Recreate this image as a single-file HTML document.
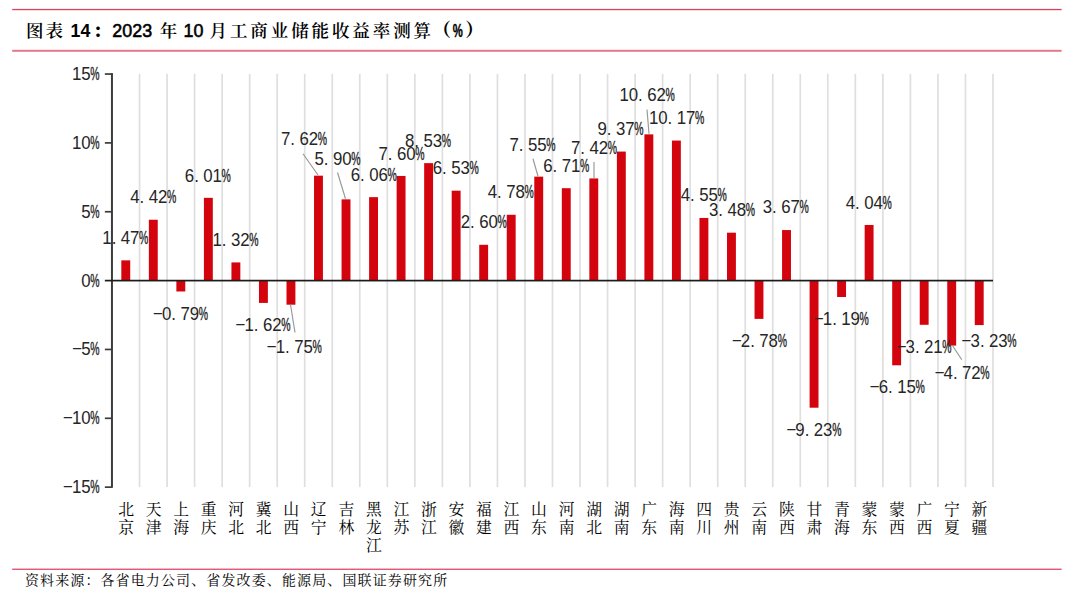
<!DOCTYPE html>
<html lang="zh-CN"><head><meta charset="utf-8"><title>图表 14：2023 年 10 月工商业储能收益率测算（%）</title>
<style>html,body{margin:0;padding:0;background:#fff}body{width:1080px;height:611px;overflow:hidden}svg{display:block}.kai{font-family:"Liberation Serif","Noto Serif CJK SC",serif}.sans{font-family:"Liberation Sans","Noto Sans CJK SC",sans-serif}</style></head><body>
<svg width="1080" height="611" viewBox="0 0 1080 611">
<rect width="1080" height="611" fill="#ffffff"/>
<rect x="12.2" y="8.9" width="1049.4" height="1.3" fill="#d8405c"/>
<rect x="12.2" y="49.8" width="1049.4" height="2" fill="#e4788c"/>
<rect x="12.2" y="568.6" width="1049.4" height="1.3" fill="#dc4a66"/>
<text id="title" y="37.30" fill="#000"><tspan class="kai" x="26.00 45.60" font-size="17.50" font-weight="600">图表 </tspan><tspan class="sans" x="70.6" font-size="17.7" font-weight="700">14</tspan><tspan class="kai" x="92.9" font-size="17.50" font-weight="900">：</tspan><tspan class="sans" x="112.3" font-size="17.9" font-weight="400" stroke="#000" stroke-width="0.55">2023 </tspan><tspan class="kai" x="159.8" font-size="17.50" font-weight="600">年 </tspan><tspan class="sans" x="183.5" font-size="17.9" font-weight="400" stroke="#000" stroke-width="0.55">10 </tspan><tspan class="kai" x="209.50 229.91 250.32 270.73 291.14 311.55 331.96 352.37 372.78 393.19 413.60" font-size="17.50" font-weight="600">月工商业储能收益率测算</tspan><tspan class="kai" x="432.5" y="36.40" font-size="18.50" font-weight="900">（</tspan><tspan class="sans" x="452.8" y="37.30" font-size="18.2" font-weight="700" textLength="10.03" lengthAdjust="spacingAndGlyphs" stroke="#000" stroke-width="0.4">%</tspan><tspan class="kai" x="465.2" y="36.40" font-size="18.50" font-weight="900">）</tspan></text>
<g id="grid" fill="#dfdfdf">
<rect x="138.68" y="73.9" width="1.7" height="413.2"/>
<rect x="166.21" y="73.9" width="1.7" height="413.2"/>
<rect x="193.74" y="73.9" width="1.7" height="413.2"/>
<rect x="221.28" y="73.9" width="1.7" height="413.2"/>
<rect x="248.81" y="73.9" width="1.7" height="413.2"/>
<rect x="276.34" y="73.9" width="1.7" height="413.2"/>
<rect x="303.87" y="73.9" width="1.7" height="413.2"/>
<rect x="331.40" y="73.9" width="1.7" height="413.2"/>
<rect x="358.93" y="73.9" width="1.7" height="413.2"/>
<rect x="386.46" y="73.9" width="1.7" height="413.2"/>
<rect x="413.99" y="73.9" width="1.7" height="413.2"/>
<rect x="441.52" y="73.9" width="1.7" height="413.2"/>
<rect x="469.06" y="73.9" width="1.7" height="413.2"/>
<rect x="496.59" y="73.9" width="1.7" height="413.2"/>
<rect x="524.12" y="73.9" width="1.7" height="413.2"/>
<rect x="551.65" y="73.9" width="1.7" height="413.2"/>
<rect x="579.18" y="73.9" width="1.7" height="413.2"/>
<rect x="606.71" y="73.9" width="1.7" height="413.2"/>
<rect x="634.24" y="73.9" width="1.7" height="413.2"/>
<rect x="661.77" y="73.9" width="1.7" height="413.2"/>
<rect x="689.31" y="73.9" width="1.7" height="413.2"/>
<rect x="716.84" y="73.9" width="1.7" height="413.2"/>
<rect x="744.37" y="73.9" width="1.7" height="413.2"/>
<rect x="771.90" y="73.9" width="1.7" height="413.2"/>
<rect x="799.43" y="73.9" width="1.7" height="413.2"/>
<rect x="826.96" y="73.9" width="1.7" height="413.2"/>
<rect x="854.49" y="73.9" width="1.7" height="413.2"/>
<rect x="882.02" y="73.9" width="1.7" height="413.2"/>
<rect x="909.56" y="73.9" width="1.7" height="413.2"/>
<rect x="937.09" y="73.9" width="1.7" height="413.2"/>
<rect x="964.62" y="73.9" width="1.7" height="413.2"/>
<rect x="992.15" y="73.9" width="1.7" height="413.2"/>
</g>
<g id="bars" fill="#d3040d">
<rect x="121.32" y="260.36" width="8.90" height="20.24"/>
<rect x="148.85" y="219.74" width="8.90" height="60.86"/>
<rect x="176.38" y="280.60" width="8.90" height="10.88"/>
<rect x="203.91" y="197.84" width="8.90" height="82.76"/>
<rect x="231.44" y="262.42" width="8.90" height="18.18"/>
<rect x="258.97" y="280.60" width="8.90" height="22.31"/>
<rect x="286.50" y="280.60" width="8.90" height="24.10"/>
<rect x="314.03" y="175.67" width="8.90" height="104.93"/>
<rect x="341.57" y="199.36" width="8.90" height="81.24"/>
<rect x="369.10" y="197.15" width="8.90" height="83.45"/>
<rect x="396.63" y="175.95" width="8.90" height="104.65"/>
<rect x="424.16" y="163.14" width="8.90" height="117.46"/>
<rect x="451.69" y="190.68" width="8.90" height="89.92"/>
<rect x="479.22" y="244.80" width="8.90" height="35.80"/>
<rect x="506.75" y="214.78" width="8.90" height="65.82"/>
<rect x="534.28" y="176.64" width="8.90" height="103.96"/>
<rect x="561.82" y="188.20" width="8.90" height="92.40"/>
<rect x="589.35" y="178.43" width="8.90" height="102.17"/>
<rect x="616.88" y="151.58" width="8.90" height="129.02"/>
<rect x="644.41" y="134.36" width="8.90" height="146.24"/>
<rect x="671.94" y="140.56" width="8.90" height="140.04"/>
<rect x="699.47" y="217.95" width="8.90" height="62.65"/>
<rect x="727.00" y="232.68" width="8.90" height="47.92"/>
<rect x="754.53" y="280.60" width="8.90" height="38.28"/>
<rect x="782.07" y="230.06" width="8.90" height="50.54"/>
<rect x="809.60" y="280.60" width="8.90" height="127.10"/>
<rect x="837.13" y="280.60" width="8.90" height="16.39"/>
<rect x="864.66" y="224.97" width="8.90" height="55.63"/>
<rect x="892.19" y="280.60" width="8.90" height="84.69"/>
<rect x="919.72" y="280.60" width="8.90" height="44.20"/>
<rect x="947.25" y="280.60" width="8.90" height="64.99"/>
<rect x="974.78" y="280.60" width="8.90" height="44.48"/>
</g>
<g id="axes" fill="#3c3c3c">
<rect x="110.95" y="73.05" width="2.0" height="414.75"/>
<rect x="104.85" y="73.20" width="7" height="1.7"/>
<rect x="104.85" y="142.05" width="7" height="1.7"/>
<rect x="104.85" y="210.90" width="7" height="1.7"/>
<rect x="104.85" y="348.60" width="7" height="1.7"/>
<rect x="104.85" y="417.45" width="7" height="1.7"/>
<rect x="104.85" y="486.30" width="7" height="1.7"/>
<rect x="104.85" y="279.75" width="888.15" height="1.7" fill="#1c1c1c"/>
</g>
<g id="ylabels" class="sans" font-size="18.30" fill="#262626">
<text transform="translate(71.95 80) scale(0.92 1)" x="0.00 10.05" y="0">15<tspan x="19.89" textLength="10.08" lengthAdjust="spacingAndGlyphs" stroke="#262626" stroke-width="0.4">%</tspan></text>
<text transform="translate(71.95 149) scale(0.92 1)" x="0.00 10.05" y="0">10<tspan x="19.89" textLength="10.08" lengthAdjust="spacingAndGlyphs" stroke="#262626" stroke-width="0.4">%</tspan></text>
<text transform="translate(81.20 218) scale(0.92 1)" x="0.00" y="0">5<tspan x="9.84" textLength="10.08" lengthAdjust="spacingAndGlyphs" stroke="#262626" stroke-width="0.4">%</tspan></text>
<text transform="translate(81.20 287) scale(0.92 1)" x="0.00" y="0">0<tspan x="9.84" textLength="10.08" lengthAdjust="spacingAndGlyphs" stroke="#262626" stroke-width="0.4">%</tspan></text>
<text transform="translate(71.95 355) scale(0.92 1)" x="-0.40 10.05" y="-1 0"><tspan textLength="12.2" lengthAdjust="spacingAndGlyphs">-</tspan>5<tspan x="19.89" textLength="10.08" lengthAdjust="spacingAndGlyphs" stroke="#262626" stroke-width="0.4">%</tspan></text>
<text transform="translate(62.70 424) scale(0.92 1)" x="-0.40 10.05 20.11" y="-1 0"><tspan textLength="12.2" lengthAdjust="spacingAndGlyphs">-</tspan>10<tspan x="29.95" textLength="10.08" lengthAdjust="spacingAndGlyphs" stroke="#262626" stroke-width="0.4">%</tspan></text>
<text transform="translate(62.70 493) scale(0.92 1)" x="-0.40 10.05 20.11" y="-1 0"><tspan textLength="12.2" lengthAdjust="spacingAndGlyphs">-</tspan>15<tspan x="29.95" textLength="10.08" lengthAdjust="spacingAndGlyphs" stroke="#262626" stroke-width="0.4">%</tspan></text>
</g>
<g id="leaders" stroke="#979797" stroke-width="1.15" fill="none">
<line x1="303.00" y1="153.75" x2="318.00" y2="175.00"/>
<line x1="337.50" y1="172.50" x2="345.50" y2="198.75"/>
<line x1="533.00" y1="158.75" x2="538.00" y2="176.25"/>
<line x1="594.00" y1="162.00" x2="594.00" y2="178.00"/>
<line x1="647.00" y1="109.50" x2="649.00" y2="133.75"/>
<line x1="290.50" y1="304.50" x2="295.00" y2="332.50"/>
<line x1="952.60" y1="345.70" x2="961.80" y2="359.80"/>
</g>
<g id="dlabels" class="sans" font-size="18.30" fill="#262626">
<text transform="translate(102.20 244) scale(0.92 1)" x="0.00 10.27 20.11 30.16" y="0">1.47<tspan x="40.00" textLength="10.08" lengthAdjust="spacingAndGlyphs" stroke="#262626" stroke-width="0.4">%</tspan></text>
<text transform="translate(130.15 203) scale(0.92 1)" x="0.00 10.27 20.11 30.16" y="0">4.42<tspan x="40.00" textLength="10.08" lengthAdjust="spacingAndGlyphs" stroke="#262626" stroke-width="0.4">%</tspan></text>
<text transform="translate(152.65 320) scale(0.92 1)" x="-0.40 10.05 20.33 30.16 40.22" y="-1 0"><tspan textLength="12.2" lengthAdjust="spacingAndGlyphs">-</tspan>0.79<tspan x="50.05" textLength="10.08" lengthAdjust="spacingAndGlyphs" stroke="#262626" stroke-width="0.4">%</tspan></text>
<text transform="translate(184.70 182) scale(0.92 1)" x="0.00 10.27 20.11 30.16" y="0">6.01<tspan x="40.00" textLength="10.08" lengthAdjust="spacingAndGlyphs" stroke="#262626" stroke-width="0.4">%</tspan></text>
<text transform="translate(212.40 246) scale(0.92 1)" x="0.00 10.27 20.11 30.16" y="0">1.32<tspan x="40.00" textLength="10.08" lengthAdjust="spacingAndGlyphs" stroke="#262626" stroke-width="0.4">%</tspan></text>
<text transform="translate(235.15 331) scale(0.92 1)" x="-0.40 10.05 20.33 30.16 40.22" y="-1 0"><tspan textLength="12.2" lengthAdjust="spacingAndGlyphs">-</tspan>1.62<tspan x="50.05" textLength="10.08" lengthAdjust="spacingAndGlyphs" stroke="#262626" stroke-width="0.4">%</tspan></text>
<text transform="translate(266.40 353) scale(0.92 1)" x="-0.40 10.05 20.33 30.16 40.22" y="-1 0"><tspan textLength="12.2" lengthAdjust="spacingAndGlyphs">-</tspan>1.75<tspan x="50.05" textLength="10.08" lengthAdjust="spacingAndGlyphs" stroke="#262626" stroke-width="0.4">%</tspan></text>
<text transform="translate(280.90 145) scale(0.92 1)" x="0.00 10.27 20.11 30.16" y="0">7.62<tspan x="40.00" textLength="10.08" lengthAdjust="spacingAndGlyphs" stroke="#262626" stroke-width="0.4">%</tspan></text>
<text transform="translate(314.40 165) scale(0.92 1)" x="0.00 10.27 20.11 30.16" y="0">5.90<tspan x="40.00" textLength="10.08" lengthAdjust="spacingAndGlyphs" stroke="#262626" stroke-width="0.4">%</tspan></text>
<text transform="translate(350.65 181) scale(0.92 1)" x="0.00 10.27 20.11 30.16" y="0">6.06<tspan x="40.00" textLength="10.08" lengthAdjust="spacingAndGlyphs" stroke="#262626" stroke-width="0.4">%</tspan></text>
<text transform="translate(378.40 160) scale(0.92 1)" x="0.00 10.27 20.11 30.16" y="0">7.60<tspan x="40.00" textLength="10.08" lengthAdjust="spacingAndGlyphs" stroke="#262626" stroke-width="0.4">%</tspan></text>
<text transform="translate(404.90 147) scale(0.92 1)" x="0.00 10.27 20.11 30.16" y="0">8.53<tspan x="40.00" textLength="10.08" lengthAdjust="spacingAndGlyphs" stroke="#262626" stroke-width="0.4">%</tspan></text>
<text transform="translate(432.65 174) scale(0.92 1)" x="0.00 10.27 20.11 30.16" y="0">6.53<tspan x="40.00" textLength="10.08" lengthAdjust="spacingAndGlyphs" stroke="#262626" stroke-width="0.4">%</tspan></text>
<text transform="translate(460.65 228) scale(0.92 1)" x="0.00 10.27 20.11 30.16" y="0">2.60<tspan x="40.00" textLength="10.08" lengthAdjust="spacingAndGlyphs" stroke="#262626" stroke-width="0.4">%</tspan></text>
<text transform="translate(487.65 198) scale(0.92 1)" x="0.00 10.27 20.11 30.16" y="0">4.78<tspan x="40.00" textLength="10.08" lengthAdjust="spacingAndGlyphs" stroke="#262626" stroke-width="0.4">%</tspan></text>
<text transform="translate(509.40 151) scale(0.92 1)" x="0.00 10.27 20.11 30.16" y="0">7.55<tspan x="40.00" textLength="10.08" lengthAdjust="spacingAndGlyphs" stroke="#262626" stroke-width="0.4">%</tspan></text>
<text transform="translate(543.15 172) scale(0.92 1)" x="0.00 10.27 20.11 30.16" y="0">6.71<tspan x="40.00" textLength="10.08" lengthAdjust="spacingAndGlyphs" stroke="#262626" stroke-width="0.4">%</tspan></text>
<text transform="translate(570.90 154) scale(0.92 1)" x="0.00 10.27 20.11 30.16" y="0">7.42<tspan x="40.00" textLength="10.08" lengthAdjust="spacingAndGlyphs" stroke="#262626" stroke-width="0.4">%</tspan></text>
<text transform="translate(597.40 135) scale(0.92 1)" x="0.00 10.27 20.11 30.16" y="0">9.37<tspan x="40.00" textLength="10.08" lengthAdjust="spacingAndGlyphs" stroke="#262626" stroke-width="0.4">%</tspan></text>
<text transform="translate(619.40 101) scale(0.92 1)" x="0.00 10.05 20.33 30.16 40.22" y="0">10.62<tspan x="50.05" textLength="10.08" lengthAdjust="spacingAndGlyphs" stroke="#262626" stroke-width="0.4">%</tspan></text>
<text transform="translate(648.90 124) scale(0.92 1)" x="0.00 10.05 20.33 30.16 40.22" y="0">10.17<tspan x="50.05" textLength="10.08" lengthAdjust="spacingAndGlyphs" stroke="#262626" stroke-width="0.4">%</tspan></text>
<text transform="translate(680.65 201) scale(0.92 1)" x="0.00 10.27 20.11 30.16" y="0">4.55<tspan x="40.00" textLength="10.08" lengthAdjust="spacingAndGlyphs" stroke="#262626" stroke-width="0.4">%</tspan></text>
<text transform="translate(708.90 216) scale(0.92 1)" x="0.00 10.27 20.11 30.16" y="0">3.48<tspan x="40.00" textLength="10.08" lengthAdjust="spacingAndGlyphs" stroke="#262626" stroke-width="0.4">%</tspan></text>
<text transform="translate(731.60 347) scale(0.92 1)" x="-0.40 10.05 20.33 30.16 40.22" y="-1 0"><tspan textLength="12.2" lengthAdjust="spacingAndGlyphs">-</tspan>2.78<tspan x="50.05" textLength="10.08" lengthAdjust="spacingAndGlyphs" stroke="#262626" stroke-width="0.4">%</tspan></text>
<text transform="translate(762.65 213) scale(0.92 1)" x="0.00 10.27 20.11 30.16" y="0">3.67<tspan x="40.00" textLength="10.08" lengthAdjust="spacingAndGlyphs" stroke="#262626" stroke-width="0.4">%</tspan></text>
<text transform="translate(786.10 436) scale(0.92 1)" x="-0.40 10.05 20.33 30.16 40.22" y="-1 0"><tspan textLength="12.2" lengthAdjust="spacingAndGlyphs">-</tspan>9.23<tspan x="50.05" textLength="10.08" lengthAdjust="spacingAndGlyphs" stroke="#262626" stroke-width="0.4">%</tspan></text>
<text transform="translate(813.50 325) scale(0.92 1)" x="-0.40 10.05 20.33 30.16 40.22" y="-1 0"><tspan textLength="12.2" lengthAdjust="spacingAndGlyphs">-</tspan>1.19<tspan x="50.05" textLength="10.08" lengthAdjust="spacingAndGlyphs" stroke="#262626" stroke-width="0.4">%</tspan></text>
<text transform="translate(845.65 209) scale(0.92 1)" x="0.00 10.27 20.11 30.16" y="0">4.04<tspan x="40.00" textLength="10.08" lengthAdjust="spacingAndGlyphs" stroke="#262626" stroke-width="0.4">%</tspan></text>
<text transform="translate(869.40 393) scale(0.92 1)" x="-0.40 10.05 20.33 30.16 40.22" y="-1 0"><tspan textLength="12.2" lengthAdjust="spacingAndGlyphs">-</tspan>6.15<tspan x="50.05" textLength="10.08" lengthAdjust="spacingAndGlyphs" stroke="#262626" stroke-width="0.4">%</tspan></text>
<text transform="translate(896.30 353) scale(0.92 1)" x="-0.40 10.05 20.33 30.16 40.22" y="-1 0"><tspan textLength="12.2" lengthAdjust="spacingAndGlyphs">-</tspan>3.21<tspan x="50.05" textLength="10.08" lengthAdjust="spacingAndGlyphs" stroke="#262626" stroke-width="0.4">%</tspan></text>
<text transform="translate(934.30 379) scale(0.92 1)" x="-0.40 10.05 20.33 30.16 40.22" y="-1 0"><tspan textLength="12.2" lengthAdjust="spacingAndGlyphs">-</tspan>4.72<tspan x="50.05" textLength="10.08" lengthAdjust="spacingAndGlyphs" stroke="#262626" stroke-width="0.4">%</tspan></text>
<text transform="translate(961.20 347) scale(0.92 1)" x="-0.40 10.05 20.33 30.16 40.22" y="-1 0"><tspan textLength="12.2" lengthAdjust="spacingAndGlyphs">-</tspan>3.23<tspan x="50.05" textLength="10.08" lengthAdjust="spacingAndGlyphs" stroke="#262626" stroke-width="0.4">%</tspan></text>
</g>
<g id="cats" class="kai" font-size="15.8" fill="#000" text-anchor="middle">
<text x="126.07 126.07" y="514.60 532.60">北京</text>
<text x="153.60 153.60" y="514.60 532.60">天津</text>
<text x="181.13 181.13" y="514.60 532.60">上海</text>
<text x="208.66 208.66" y="514.60 532.60">重庆</text>
<text x="236.19 236.19" y="514.60 532.60">河北</text>
<text x="263.72 263.72" y="514.60 532.60">冀北</text>
<text x="291.25 291.25" y="514.60 532.60">山西</text>
<text x="318.78 318.78" y="514.60 532.60">辽宁</text>
<text x="346.32 346.32" y="514.60 532.60">吉林</text>
<text x="373.85 373.85 373.85" y="514.60 532.60 550.60">黑龙江</text>
<text x="401.38 401.38" y="514.60 532.60">江苏</text>
<text x="428.91 428.91" y="514.60 532.60">浙江</text>
<text x="456.44 456.44" y="514.60 532.60">安徽</text>
<text x="483.97 483.97" y="514.60 532.60">福建</text>
<text x="511.50 511.50" y="514.60 532.60">江西</text>
<text x="539.03 539.03" y="514.60 532.60">山东</text>
<text x="566.57 566.57" y="514.60 532.60">河南</text>
<text x="594.10 594.10" y="514.60 532.60">湖北</text>
<text x="621.63 621.63" y="514.60 532.60">湖南</text>
<text x="649.16 649.16" y="514.60 532.60">广东</text>
<text x="676.69 676.69" y="514.60 532.60">海南</text>
<text x="704.22 704.22" y="514.60 532.60">四川</text>
<text x="731.75 731.75" y="514.60 532.60">贵州</text>
<text x="759.28 759.28" y="514.60 532.60">云南</text>
<text x="786.82 786.82" y="514.60 532.60">陕西</text>
<text x="814.35 814.35" y="514.60 532.60">甘肃</text>
<text x="841.88 841.88" y="514.60 532.60">青海</text>
<text x="869.41 869.41" y="514.60 532.60">蒙东</text>
<text x="896.94 896.94" y="514.60 532.60">蒙西</text>
<text x="924.47 924.47" y="514.60 532.60">广西</text>
<text x="952.00 952.00" y="514.60 532.60">宁夏</text>
<text x="979.53 979.53" y="514.60 532.60">新疆</text>
</g>
<g id="source">
<text class="kai" x="24.90 40.02 55.14 70.26 85.38 100.50 115.62 130.74 145.86 160.98 176.10 191.22 206.34 221.46 236.58 251.70 266.82 281.94 297.06 312.18 327.30 342.42 357.54 372.66 387.78 402.90 418.02 433.14" y="584.90" font-size="14.00" font-weight="400" fill="#000">资料来源：各省电力公司、省发改委、能源局、国联证券研究所</text>
</g>
</svg></body></html>
